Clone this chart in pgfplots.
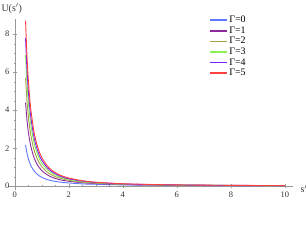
\documentclass[border=0pt]{standalone}
\usepackage{pgfplots}
\usepackage{pgfplotstable}
\pgfplotsset{compat=1.18}
\usepackage{fontspec}
\setmainfont{Liberation Serif}
\definecolor{c0}{HTML}{5F78FF}
\definecolor{c1}{HTML}{8E2A9E}
\definecolor{c2}{HTML}{A3A345}
\definecolor{c3}{HTML}{8CF24F}
\definecolor{c4}{HTML}{7A22FF}
\definecolor{c5}{HTML}{FF4040}
\pgfplotstableread{
s    g0    g1    g2    g3    g4    g5
0.40 2.16  4.40  5.70  6.90  7.80  8.70
0.45 1.76  3.53  4.55  5.50  6.21  6.92
0.50 1.46  2.90  3.73  4.50  5.07  5.65
0.55 1.24  2.43  3.11  3.75  4.23  4.70
0.60 1.07  2.07  2.64  3.18  3.58  3.98
0.70 0.83  1.56  1.98  2.38  2.67  2.96
0.80 0.67  1.23  1.55  1.85  2.08  2.30
0.90 0.55  0.99  1.25  1.49  1.66  1.84
1.00 0.47  0.82  1.03  1.22  1.37  1.51
1.20 0.35  0.60  0.74  0.88  0.98  1.08
1.40 0.28  0.46  0.57  0.67  0.74  0.81
1.70 0.21  0.33  0.41  0.47  0.52  0.57
2.00 0.17  0.26  0.31  0.36  0.39  0.43
2.50 0.12  0.18  0.21  0.24  0.27  0.29
3.00 0.10  0.14  0.16  0.18  0.20  0.21
4.00 0.067 0.089 0.10  0.11  0.12  0.13
5.00 0.051 0.065 0.073 0.081 0.087 0.092
6.00 0.041 0.050 0.056 0.062 0.065 0.069
7.00 0.034 0.042 0.046 0.050 0.053 0.056
8.00 0.029 0.035 0.038 0.041 0.043 0.045
10.0 0.023 0.026 0.028 0.030 0.032 0.033
}\datatable
\begin{document}
\begin{tikzpicture}
\path[use as bounding box] (0,0) rectangle (306bp,245bp);
\begin{axis}[
  at={(8bp,55bp)}, anchor=south west,
  scale only axis, width=285bp, height=171bp,
  xmin=-0.25, xmax=10.3, ymin=-0.2, ymax=8.8,
  axis lines=middle,
  axis line style={-, draw=black!40},
  hide obscured x ticks=false, hide obscured y ticks=false,
  xtick={0,2,4,6,8,10}, ytick={0,2,4,6,8},
  minor x tick num=3, minor y tick num=3,
  major tick length=4bp, minor tick length=2bp,
  every tick/.style={draw=black!40},
  tick label style={font=\fontsize{8.5}{9}\selectfont, text=black!80},
  /pgf/number format/assume math mode=true,
  xlabel={s$'$}, ylabel={U(s$'$)},
  label style={font=\fontsize{10}{11}\selectfont, text=black!80},
  xlabel style={at={(ticklabel* cs:1)}, anchor=west, xshift=4bp, yshift=-3bp},
  ylabel style={at={(ticklabel* cs:1)}, anchor=south, xshift=-3bp, yshift=2bp},
  legend style={at={(rel axis cs:0.70,1.035)}, anchor=north west, draw=none, fill=none,
    font=\fontsize{10}{11}\selectfont, row sep=-1.5bp, inner sep=1bp},
  legend cell align=left,
  legend image post style={line width=1.6bp},
  clip=false,
]
\addplot[c0, line width=0.9bp, smooth] table[x=s,y=g0] {\datatable};
\addlegendentry{Γ=0}
\addplot[c1, line width=0.9bp, smooth] table[x=s,y=g1] {\datatable};
\addlegendentry{Γ=1}
\addplot[c2, line width=0.9bp, smooth] table[x=s,y=g2] {\datatable};
\addlegendentry{Γ=2}
\addplot[c3, line width=0.9bp, smooth] table[x=s,y=g3] {\datatable};
\addlegendentry{Γ=3}
\addplot[c4, line width=0.9bp, smooth] table[x=s,y=g4] {\datatable};
\addlegendentry{Γ=4}
\addplot[c5, line width=0.9bp, smooth] table[x=s,y=g5] {\datatable};
\addlegendentry{Γ=5}
\end{axis}
\end{tikzpicture}
\end{document}
